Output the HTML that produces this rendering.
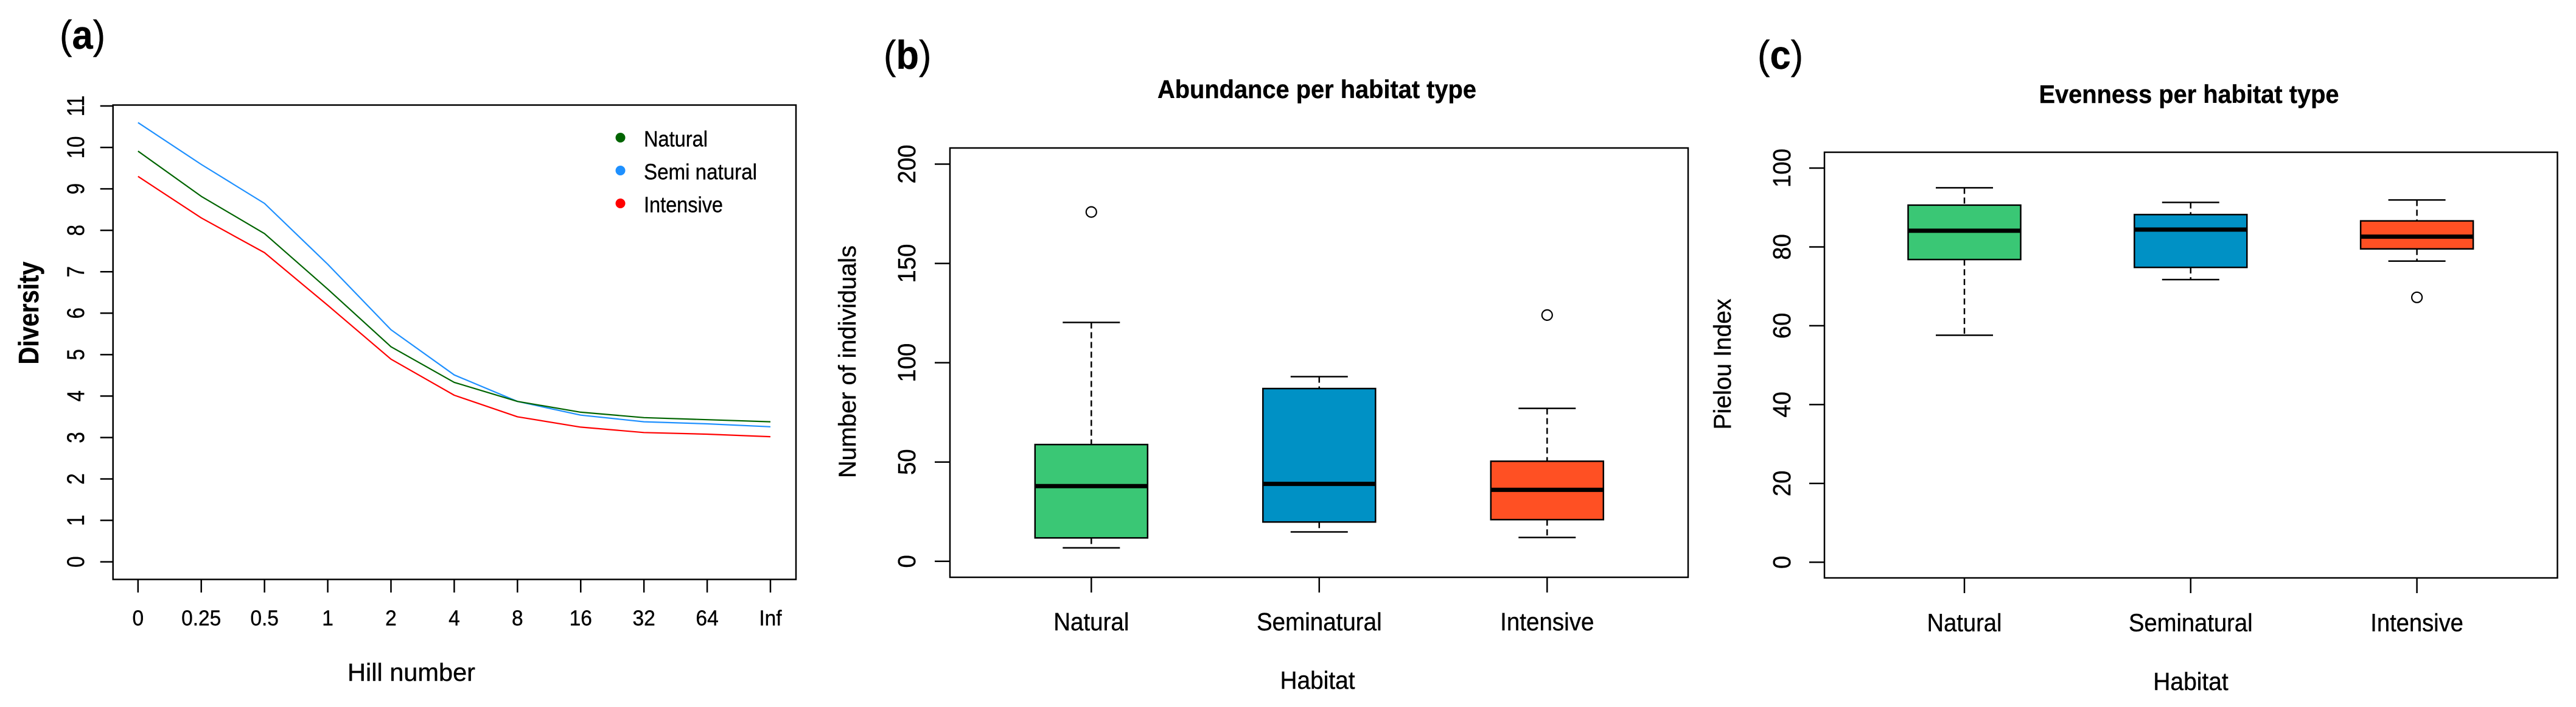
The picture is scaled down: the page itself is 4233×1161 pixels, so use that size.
<!DOCTYPE html>
<html lang="en">
<head>
<meta charset="utf-8">
<title>Diversity, abundance and evenness per habitat type</title>
<style>
  html, body { margin: 0; padding: 0; background: #fff; }
  body { width: 4233px; height: 1161px; overflow: hidden; }
  svg { display: block; }
  text { font-family: "Liberation Sans", Arial, sans-serif; fill: #000; stroke: #000; stroke-width: 0.4px; }
</style>
</head>
<body>
<svg id="figure" xmlns="http://www.w3.org/2000/svg" width="4233" height="1161" viewBox="0 0 4233 1161">
  <rect x="0" y="0" width="4233" height="1161" fill="#fff"/>

  <g id="panel-a">
    <text transform="translate(98,80) scale(0.93,1)" font-size="66">(<tspan font-weight="bold">a</tspan>)</text>
    <text transform="translate(63,514) rotate(-90)" text-anchor="middle" font-size="46" font-weight="bold" textLength="169" lengthAdjust="spacingAndGlyphs">Diversity</text>
    <text x="676" y="1118" text-anchor="middle" font-size="41" textLength="210" lengthAdjust="spacingAndGlyphs">Hill number</text>
    <rect x="185.7" y="172.5" width="1122.3" height="779" fill="none" stroke="#000" stroke-width="2.5"/>
    <g>
      <circle cx="1019.5" cy="226" r="8" fill="#006400"/>
      <text x="1058" y="240.7" font-size="36" textLength="105" lengthAdjust="spacingAndGlyphs">Natural</text>
      <circle cx="1019.5" cy="280" r="8" fill="#1e90ff"/>
      <text x="1058" y="294.7" font-size="36" textLength="186" lengthAdjust="spacingAndGlyphs">Semi natural</text>
      <circle cx="1019.5" cy="334" r="8" fill="#ff0000"/>
      <text x="1058" y="348.7" font-size="36" textLength="130" lengthAdjust="spacingAndGlyphs">Intensive</text>
    </g>
  </g>

  <g id="panel-b">
    <text transform="translate(1452,113) scale(0.93,1)" font-size="66">(<tspan font-weight="bold">b</tspan>)</text>
    <text x="2164" y="161" text-anchor="middle" font-size="42" font-weight="bold" textLength="524" lengthAdjust="spacingAndGlyphs">Abundance per habitat type</text>
    <text transform="translate(1406,594) rotate(-90)" text-anchor="middle" font-size="40" textLength="382" lengthAdjust="spacingAndGlyphs">Number of individuals</text>
    <text x="2165" y="1131" text-anchor="middle" font-size="41" textLength="123" lengthAdjust="spacingAndGlyphs">Habitat</text>
    <rect x="1561" y="243" width="1213" height="705" fill="none" stroke="#000" stroke-width="2.5"/>
  </g>

  <g id="panel-c">
    <text transform="translate(2888,113) scale(0.93,1)" font-size="66">(<tspan font-weight="bold">c</tspan>)</text>
    <text x="3597" y="169" text-anchor="middle" font-size="42" font-weight="bold" textLength="493" lengthAdjust="spacingAndGlyphs">Evenness per habitat type</text>
    <text transform="translate(2844,598) rotate(-90)" text-anchor="middle" font-size="40" textLength="215" lengthAdjust="spacingAndGlyphs">Pielou Index</text>
    <text x="3600" y="1133" text-anchor="middle" font-size="41" textLength="123.5" lengthAdjust="spacingAndGlyphs">Habitat</text>
    <rect x="2998" y="250" width="1204.5" height="699" fill="none" stroke="#000" stroke-width="2.5"/>
  </g>
</svg>

<script>
// ---- Panel (a) data ----
const hillOrders = ['0', '0.25', '0.5', '1', '2', '4', '8', '16', '32', '64', 'Inf'];
const diversityTicks = [0, 1, 2, 3, 4, 5, 6, 7, 8, 9, 10, 11];
const diversityNatural = [9.91, 8.82, 7.92, 6.58, 5.19, 4.33, 3.87, 3.61, 3.48, 3.43, 3.38];
const diversitySemiNatural = [10.6, 9.59, 8.65, 7.18, 5.6, 4.51, 3.87, 3.54, 3.38, 3.33, 3.26];
const diversityIntensive = [9.3, 8.3, 7.46, 6.19, 4.89, 4.02, 3.5, 3.25, 3.12, 3.08, 3.02];

// ---- Panel (b) data ----
const habitats = ['Natural', 'Seminatural', 'Intensive'];
const abundanceTicks = [0, 50, 100, 150, 200];
const abundanceWhiskerLow = [6.8, 14.8, 12];
const abundanceQ1 = [11.8, 19.8, 21];
const abundanceMedian = [37.9, 39, 36];
const abundanceQ3 = [58.8, 87, 50.4];
const abundanceWhiskerHigh = [120.3, 93, 77];
const abundanceOutliers = [[175.9], [], [124]];

// ---- Panel (c) data ----
const evennessTicks = [0, 20, 40, 60, 80, 100];
const evennessWhiskerLow = [57.6, 71.7, 76.4];
const evennessQ1 = [76.8, 74.8, 79.5];
const evennessMedian = [84.1, 84.4, 82.6];
const evennessQ3 = [90.6, 88.2, 86.6];
const evennessWhiskerHigh = [95, 91.3, 91.9];
const evennessOutliers = [[], [], [67.2]];

// ---- Axis functions ----
const xHill = i => 226.8 + i * 103.92;
const yDiversity = v => 922.6 - v * 68.05;
const xAbundance = i => 1793.3 + i * 374.5;
const yAbundance = v => 921.8 - v * 3.2615;
const xEvenness = i => 3228 + i * 371.8;
const yEvenness = v => 923.3 - v * 6.473;

const NS = 'http://www.w3.org/2000/svg';
const boxFills = ['#3ac775', '#0091c5', '#ff5023'];
const lineColors = ['#006400', '#1e90ff', '#ff0000'];

function make(tag, parent, props) {
  const el = document.createElementNS(NS, tag);
  for (const k in props) el.setAttribute(k, props[k]);
  parent.appendChild(el);
  return el;
}
function segment(parent, x1, y1, x2, y2, width, dash) {
  const props = { x1: x1, y1: y1, x2: x2, y2: y2, stroke: '#000', 'stroke-width': width };
  if (dash) props['stroke-dasharray'] = dash;
  return make('line', parent, props);
}
function squeeze(el, ratio) {
  el.setAttribute('textLength', (el.getComputedTextLength() * ratio).toFixed(1));
  el.setAttribute('lengthAdjust', 'spacingAndGlyphs');
}

function drawYAxis(panel, ticks, yFn, frameX, tickLen, labelX, fontSize, ratio) {
  ticks.forEach(v => {
    const mark = segment(panel, frameX - tickLen, yFn(v), frameX, yFn(v), 2.5);
    
    
    const label = make('text', panel, {
      transform: 'translate(' + labelX + ',' + yFn(v) + ') rotate(-90)',
      'text-anchor': 'middle', 'font-size': fontSize
    });
    label.textContent = String(v);
    
    
    squeeze(label, ratio);
  });
}
function drawXAxis(panel, labels, xFn, frameY, tickBottom, baseline, fontSize, ratio) {
  labels.forEach((text, i) => {
    const mark = segment(panel, xFn(i), frameY, xFn(i), tickBottom, 2.5);
    
    
    const label = make('text', panel, {
      x: xFn(i), y: baseline, 'text-anchor': 'middle', 'font-size': fontSize
    });
    label.textContent = text;
    
    
    squeeze(label, ratio);
  });
}
function drawLine(panel, values, color) {
  const pts = values.map((v, i) => xHill(i).toFixed(1) + ',' + yDiversity(v).toFixed(1)).join(' ');
  return make('polyline', panel, { points: pts, fill: 'none', stroke: color, 'stroke-width': 2.2, 'stroke-linejoin': 'round' });
}
function drawBoxes(panel, xFn, yFn, low, q1, med, q3, high, outliers) {
  const boxHalf = 92.5, capHalf = 47;
  low.forEach((_, i) => {
    const cx = xFn(i);
    const group = make('g', panel, {});
    
    

    const upper = segment(group, cx, yFn(high[i]), cx, yFn(q3[i]), 2.5, '10 6');
    
    
    const lower = segment(group, cx, yFn(q1[i]), cx, yFn(low[i]), 2.5, '10 6');
    
    
    const capHigh = segment(group, cx - capHalf, yFn(high[i]), cx + capHalf, yFn(high[i]), 2.5);
    
    
    const capLow = segment(group, cx - capHalf, yFn(low[i]), cx + capHalf, yFn(low[i]), 2.5);
    
    

    const body = make('rect', group, {
      x: cx - boxHalf, y: yFn(q3[i]), width: boxHalf * 2, height: yFn(q1[i]) - yFn(q3[i]),
      fill: boxFills[i], stroke: '#000', 'stroke-width': 2.5
    });
    
    

    const median = segment(group, cx - boxHalf, yFn(med[i]), cx + boxHalf, yFn(med[i]), 7);
    
    

    outliers[i].forEach(v => {
      const dot = make('circle', group, { cx: cx, cy: yFn(v), r: 8.5, fill: 'none', stroke: '#000', 'stroke-width': 2.2 });
      
      
    });
  });
}

// ---- Panel (a) ----
const panelA = document.getElementById('panel-a');
drawYAxis(panelA, diversityTicks, yDiversity, 185.7, 21, 138, 40, 0.83);
drawXAxis(panelA, hillOrders, xHill, 951.5, 973, 1027, 35, 0.957);
const lineSemi = drawLine(panelA, diversitySemiNatural, lineColors[1]);


const lineNatural = drawLine(panelA, diversityNatural, lineColors[0]);


const lineIntensive = drawLine(panelA, diversityIntensive, lineColors[2]);



// ---- Panel (b) ----
const panelB = document.getElementById('panel-b');
drawYAxis(panelB, abundanceTicks, yAbundance, 1561, 25, 1504, 41, 0.935);
drawXAxis(panelB, habitats, xAbundance, 948, 973, 1035, 41, 0.94);
drawBoxes(panelB, xAbundance, yAbundance, abundanceWhiskerLow, abundanceQ1, abundanceMedian, abundanceQ3, abundanceWhiskerHigh, abundanceOutliers);

// ---- Panel (c) ----
const panelC = document.getElementById('panel-c');
drawYAxis(panelC, evennessTicks, yEvenness, 2998, 25, 2942, 41, 0.935);
drawXAxis(panelC, habitats, xEvenness, 949, 974, 1036.6, 41, 0.93);
drawBoxes(panelC, xEvenness, yEvenness, evennessWhiskerLow, evennessQ1, evennessMedian, evennessQ3, evennessWhiskerHigh, evennessOutliers);
</script>
</body>
</html>
